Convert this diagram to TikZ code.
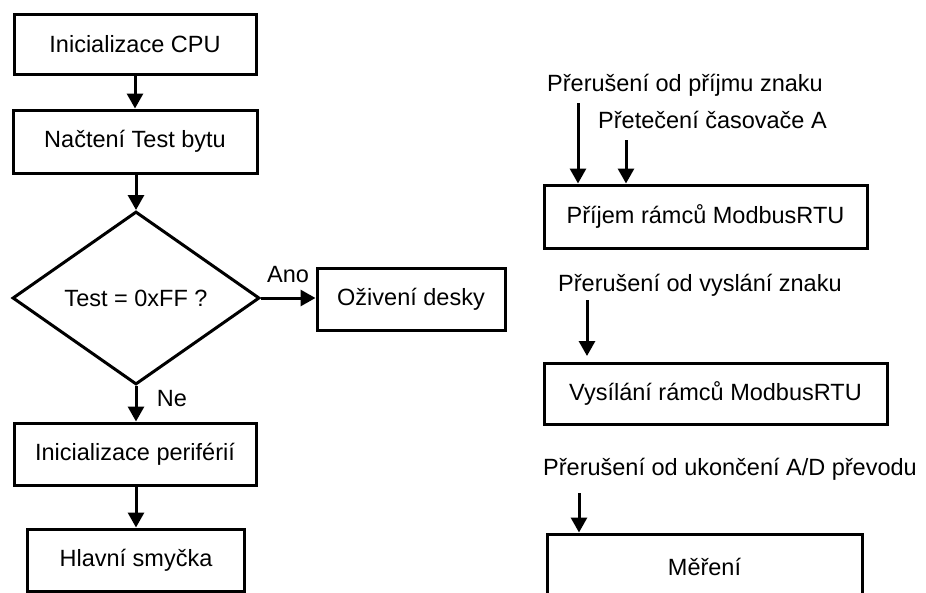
\documentclass[tikz,border=0pt]{standalone}
\usepackage{fontspec}
\setmainfont{Liberation Sans}
\usetikzlibrary{arrows.meta,shapes.geometric}
\begin{document}
\begin{tikzpicture}[x=1pt,y=-1pt,
  font=\fontsize{23.5}{28}\selectfont,
  box/.style={draw,line width=3pt,rectangle,inner sep=0pt},
  decision/.style={draw,line width=3pt,diamond,aspect=1.43,inner sep=0pt,
    minimum width=247pt,minimum height=173pt},
  arr/.style={line width=3pt,-{Triangle[width=16pt,length=15pt]}},
  lbl/.style={inner sep=0pt}]
\useasboundingbox (0,0) rectangle (926,592);

% main program flow
\node[box,minimum width=242pt,minimum height=60pt] (init) at (135,44) {Inicializace CPU};
\node[box,minimum width=244pt,minimum height=63pt] (load) at (135,141.5) {Načtení Test bytu};
\node[decision] (test) at (136,298) {Test = 0xFF ?};
\node[box,minimum width=188pt,minimum height=62pt] (board) at (411,299) {Oživení desky};
\node[box,minimum width=242pt,minimum height=62pt] (periph) at (135,454) {Inicializace periférií};
\node[box,minimum width=217pt,minimum height=62pt] (loop) at (136,560) {Hlavní smyčka};

\draw[arr] (init.south) -- (init.south |- load.north);
\draw[arr] (load.south) -- (load.south -| test.north) -- (test.north);
\draw[arr] (test.east) -- (test.east -| board.west);
\draw[arr] (test.south) -- (test.south |- periph.north);
\draw[arr] (periph.south) -- (periph.south -| loop.north) -- (loop.north);
\node[lbl] (ano) at (288,275) {Ano};
\node[lbl] (ne) at (172,399) {Ne};

% interrupt handlers
\node[box,minimum width=323pt,minimum height=63pt] (rx) at (705.5,216.5) {Příjem rámců ModbusRTU};
\node[box,minimum width=343pt,minimum height=61pt] (tx) at (715.5,393.5) {Vysílání rámců ModbusRTU};
\node[box,minimum width=315pt,minimum height=66pt] (meas) at (704.5,567) {Měření};

\node[lbl,anchor=base west] (irx) at (547,91) {Přerušení od příjmu znaku};
\node[lbl,anchor=base west] (itmr) at (598,128) {Přetečení časovače A};
\node[lbl,anchor=base west] (itx) at (558,291) {Přerušení od vyslání znaku};
\node[lbl,anchor=base west] (iadc) at (543,475) {Přerušení od ukončení A/D převodu};

\coordinate (irxs) at (578,103);
\coordinate (itmrs) at (626,140);
\coordinate (itxs) at (587,300);
\coordinate (itxe) at (587,356);
\coordinate (iadcs) at (579,493);

\draw[arr] (irxs) -- (irxs |- rx.north);
\draw[arr] (itmrs) -- (itmrs |- rx.north);
\draw[arr] (itxs) -- (itxe);
\draw[arr] (iadcs) -- (iadcs |- meas.north);
\end{tikzpicture}
\end{document}
